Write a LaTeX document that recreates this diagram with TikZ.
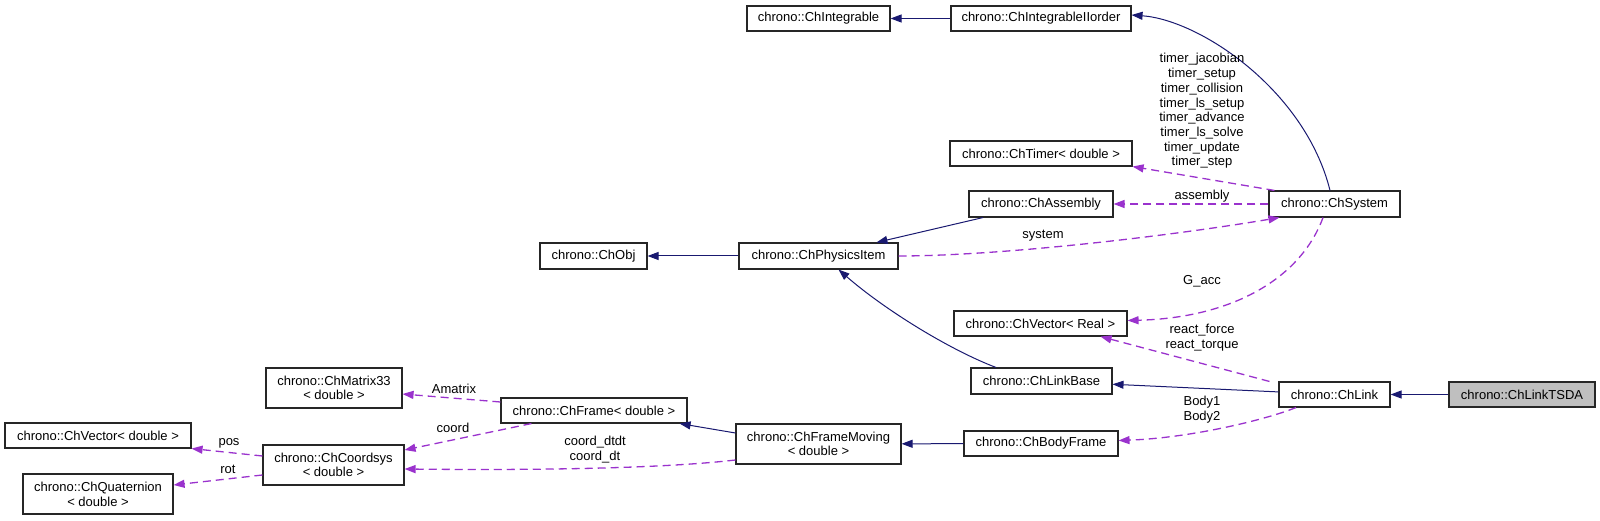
\documentclass[tikz,border=0pt]{standalone}
\usepackage{fontspec}
\setmainfont{Liberation Sans}
\usepackage{tikz}
\usetikzlibrary{arrows.meta,calc}
\definecolor{herencia}{HTML}{191970}
\definecolor{membre}{HTML}{9A32CD}
\definecolor{actual}{HTML}{BFBFBF}

\begin{document}
\begin{tikzpicture}[
    x=1pt, y=-1pt,
    >={Triangle[length=11pt,width=8pt]},
    classe/.style={
        draw=black!85,
        line width=1.1pt,
        fill=white,
        inner sep=0pt,
        align=center,
        font=\fontsize{13}{14.7}\selectfont
    },
    etiqueta/.style={
        inner sep=0pt,
        align=center,
        font=\fontsize{13}{14.7}\selectfont
    },
    hereta/.style={
        ->,
        line width=1pt,
        herencia
    },
    usa/.style={
        ->,
        line width=1.3pt,
        membre,
        dash pattern=on 8pt off 5pt
    }
]

\useasboundingbox (0,0) rectangle (1600,521);

% Classes de dalt
\node[classe, minimum width=143pt, minimum height=25pt] (integ) at (818.5,18.5) {chrono::ChIntegrable};
\node[classe, minimum width=180pt, minimum height=25pt] (integ2) at (1041,18.5) {chrono::ChIntegrableIIorder};
\node[classe, minimum width=182pt, minimum height=25pt] (timer) at (1041,153.5) {chrono::ChTimer< double >};
\node[classe, minimum width=144pt, minimum height=26pt] (assembly) at (1041,204) {chrono::ChAssembly};
\node[classe, minimum width=131pt, minimum height=26pt] (system) at (1334.5,204) {chrono::ChSystem};
\node[classe, minimum width=107pt, minimum height=26pt] (obj) at (593.5,256) {chrono::ChObj};
\node[classe, minimum width=159pt, minimum height=26pt] (phys) at (818.5,256) {chrono::ChPhysicsItem};

% Classes del mig
\node[classe, minimum width=173pt, minimum height=25pt] (vecreal) at (1040.5,323.5) {chrono::ChVector< Real >};
\node[classe, minimum width=141pt, minimum height=26pt] (linkbase) at (1041.5,381) {chrono::ChLinkBase};
\node[classe, minimum width=111pt, minimum height=25pt] (link) at (1334.5,394.5) {chrono::ChLink};
\node[classe, fill=actual, minimum width=146pt, minimum height=25pt] (tsda) at (1522,394.5) {chrono::ChLinkTSDA};
\node[classe, minimum width=154pt, minimum height=25pt] (bodyframe) at (1041,443.5) {chrono::ChBodyFrame};

% Classes de baix
\node[classe, minimum width=186pt, minimum height=25pt] (frame) at (594,410.5) {chrono::ChFrame< double >};
\node[classe, minimum width=165pt, minimum height=40pt] (framemov) at (818.5,444) {chrono::ChFrameMoving\\< double >};
\node[classe, minimum width=136pt, minimum height=40pt] (matrix) at (334,388) {chrono::ChMatrix33\\< double >};
\node[classe, minimum width=141pt, minimum height=40pt] (coordsys) at (333.5,465) {chrono::ChCoordsys\\< double >};
\node[classe, minimum width=186pt, minimum height=25pt] (vecd) at (98,435.5) {chrono::ChVector< double >};
\node[classe, minimum width=150pt, minimum height=40pt] (quat) at (98,494) {chrono::ChQuaternion\\< double >};

% Herència
\draw[hereta] (integ2) -- (integ);
\draw[hereta] ([xshift=-4.5pt]system.north) .. controls (1305,90) and (1200,20) .. ([yshift=3.5pt]integ2.east);
\draw[hereta] (assembly) -- (phys);
\draw[hereta] (phys) -- (obj);
\draw[hereta] ([xshift=-45.5pt]linkbase.north) .. controls (950,350) and (885,310) .. ([xshift=20pt]phys.south);
\draw[hereta] (link) -- (linkbase);
\draw[hereta] (tsda) -- (link);
\draw[hereta] ([yshift=11pt]framemov.west) -- ([xshift=-8pt]frame.south east);
\draw[hereta] (bodyframe) -- (framemov);

% Membres
\draw[usa] ([xshift=6pt]system.north west) -- (timer.south east);
\node[etiqueta] (ltimer) at (1202,111) {timer\_jacobian\\timer\_setup\\timer\_collision\\timer\_ls\_setup\\timer\_advance\\timer\_ls\_solve\\timer\_update\\timer\_step};

\draw[usa] (system) -- (assembly);
\node[etiqueta] (lassembly) at (1202,196) {assembly};

\draw[usa] (phys.east) .. controls (1000,256) and (1170,236) .. ([xshift=11pt]system.south west);
\node[etiqueta] (lsystem) at (1043,236) {system};

\draw[usa] ([xshift=-11.5pt]system.south) .. controls (1300,280) and (1230,318) .. ([yshift=3pt]vecreal.east);
\node[etiqueta] (lgacc) at (1202,281) {G\_acc};

\draw[usa] ([xshift=-9pt]link.north west) -- ([xshift=-27pt]vecreal.south east);
\node[etiqueta] (lreact) at (1202,337.5) {react\_force\\react\_torque};

\draw[usa] ([xshift=-38.5pt]link.south) .. controls (1265,420) and (1190,438) .. ([yshift=3pt]bodyframe.east);
\node[etiqueta] (lbody) at (1202,409.5) {Body1\\Body2};

\draw[usa] ([yshift=8.5pt]frame.west) -- ([yshift=-6pt]matrix.east);
\node[etiqueta] (lamatrix) at (454,389) {Amatrix};

\draw[usa] ([xshift=31pt]frame.south west) -- ([yshift=15pt]coordsys.east);
\node[etiqueta] (lcoord) at (453,428) {coord};

\draw[usa] ([yshift=-16pt]framemov.west) .. controls (650,470) and (500,470) .. ([yshift=-4pt]coordsys.east);
\node[etiqueta] (lcoorddt) at (595,449.5) {coord\_dtdt\\coord\_dt};

\draw[usa] ([yshift=9pt]coordsys.west) -- (vecd.south east);
\node[etiqueta] (lpos) at (229,443) {pos};

\draw[usa] ([yshift=-10pt]coordsys.west) -- ([yshift=9pt]quat.east);
\node[etiqueta] (lrot) at (228,469) {rot};

\end{tikzpicture}
\end{document}
